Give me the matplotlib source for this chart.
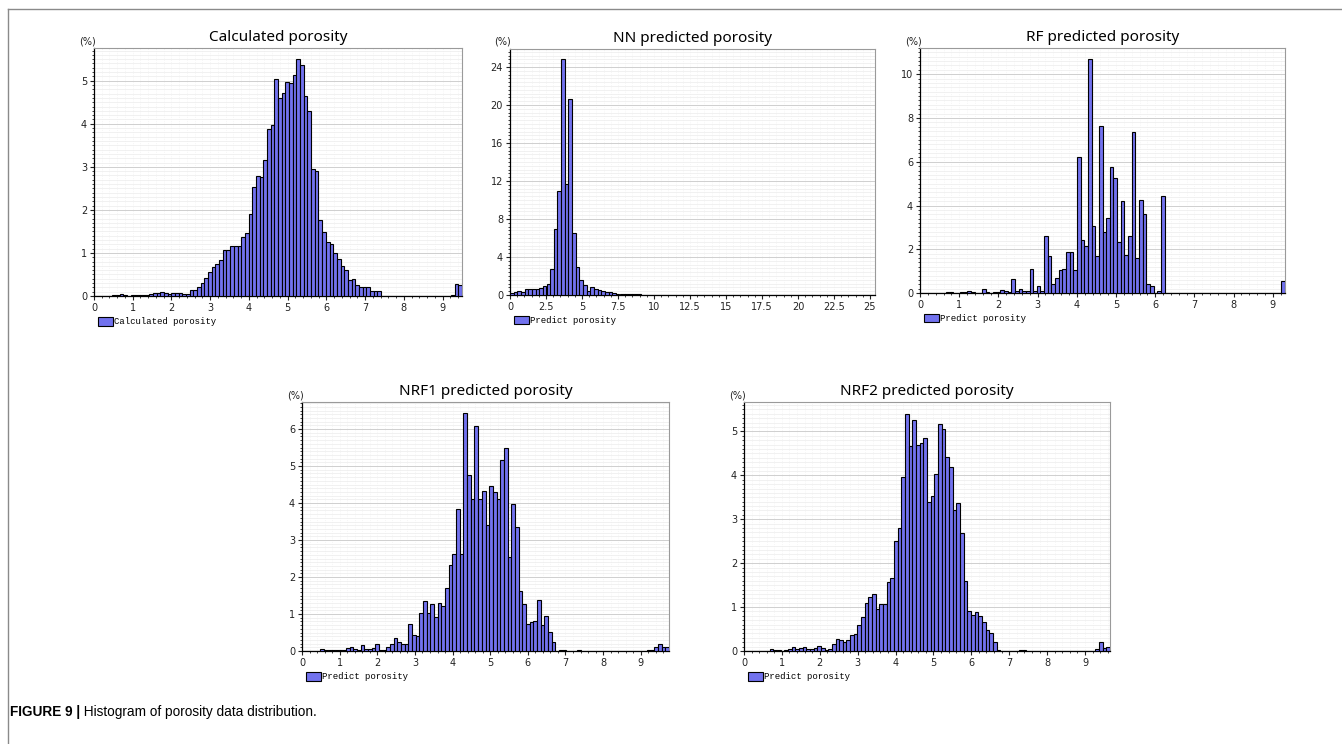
import numpy as np
import matplotlib
matplotlib.use("Agg")
import matplotlib.pyplot as plt
from matplotlib.ticker import MultipleLocator, FuncFormatter
from matplotlib.lines import Line2D

# --- Daten (Balkenhöhen in %, je 100 Klassen von 0 bis xmax) ---
CALC_XMAX = 9.5
CALC_VALUES = [
    0, 0, 0, 0, 0.01, 0.02, 0.02, 0.05, 0.03, 0.01,
    0.02, 0.02, 0.02, 0.02, 0.03, 0.04, 0.06, 0.07, 0.10, 0.08,
    0.04, 0.07, 0.07, 0.07, 0.05, 0.05, 0.15, 0.13, 0.20, 0.31,
    0.41, 0.56, 0.68, 0.74, 0.83, 1.08, 1.08, 1.17, 1.16, 1.17,
    1.36, 1.47, 1.90, 2.54, 2.79, 2.77, 3.17, 3.87, 3.98, 5.04,
    4.61, 4.72, 4.98, 4.94, 5.13, 5.50, 5.36, 4.64, 4.30, 2.96,
    2.91, 1.76, 1.49, 1.26, 1.20, 1.01, 0.87, 0.69, 0.60, 0.38,
    0.40, 0.25, 0.21, 0.22, 0.20, 0.12, 0.12, 0.12, 0, 0,
    0, 0, 0, 0, 0, 0, 0, 0, 0, 0,
    0, 0, 0, 0, 0, 0, 0, 0.02, 0.28, 0.25,
]

NN_XMAX = 25.35
NN_VALUES = [
    0.25, 0.30, 0.45, 0.35, 0.60, 0.67, 0.67, 0.65, 0.77, 0.90,
    1.20, 2.70, 6.90, 10.9, 24.8, 11.7, 20.6, 6.50, 3.00, 1.60,
    1.10, 0.45, 0.80, 0.60, 0.50, 0.45, 0.35, 0.28, 0.18, 0.12,
    0.12, 0.10, 0.08, 0.10, 0.06, 0.08, 0.05, 0.04, 0.05, 0.03,
    0.03, 0.02, 0.03, 0.02, 0.02, 0.01, 0.02, 0.02, 0.01, 0.02,
    0.01, 0.02, 0.01, 0.01, 0.02, 0.01, 0, 0.01, 0.02, 0.01,
    0.01, 0, 0.01, 0.02, 0.01, 0, 0.01, 0.01, 0, 0.01,
    0.02, 0.01, 0, 0.01, 0, 0.01, 0.02, 0, 0.01, 0.01,
    0, 0.01, 0.01, 0, 0.02, 0.01, 0, 0.01, 0, 0.01,
    0.01, 0, 0.01, 0.02, 0, 0.01, 0, 0.01, 0.01, 0,
]

RF_XMAX = 9.31
RF_VALUES = [
    0, 0, 0, 0, 0, 0, 0, 0.05, 0.05, 0.02,
    0.02, 0.05, 0.05, 0.10, 0.03, 0.02, 0.02, 0.20, 0.05, 0.02,
    0.05, 0.04, 0.15, 0.08, 0.06, 0.65, 0.11, 0.17, 0.11, 0.11,
    1.10, 0.10, 0.32, 0.11, 2.60, 1.71, 0.40, 0.69, 1.04, 1.10,
    1.86, 1.86, 1.04, 6.20, 2.41, 2.13, 10.7, 3.05, 1.69, 7.63,
    2.80, 3.43, 5.74, 5.25, 2.32, 4.20, 1.72, 2.61, 7.35, 1.62,
    4.24, 3.59, 0.40, 0.32, 0, 0.11, 4.43, 0, 0, 0,
    0, 0, 0, 0, 0, 0, 0, 0, 0, 0,
    0, 0, 0, 0, 0, 0, 0, 0, 0, 0,
    0, 0, 0, 0, 0, 0, 0, 0, 0, 0.55,
]

NRF1_XMAX = 9.75
NRF1_VALUES = [
    0, 0, 0, 0, 0, 0.05, 0.02, 0.02, 0.02, 0.02,
    0.02, 0.02, 0.08, 0.12, 0.05, 0.03, 0.17, 0.06, 0.06, 0.08,
    0.20, 0.03, 0.03, 0.10, 0.19, 0.35, 0.24, 0.19, 0.19, 0.73,
    0.43, 0.41, 1.03, 1.34, 1.03, 1.27, 0.92, 1.30, 1.22, 1.69,
    2.32, 2.61, 3.85, 2.61, 6.42, 4.77, 4.10, 6.08, 4.10, 4.33,
    3.40, 4.47, 4.31, 4.10, 5.17, 5.48, 2.53, 3.96, 3.35, 1.62,
    1.26, 0.73, 0.78, 0.82, 1.38, 0.70, 0.95, 0.52, 0.25, 0,
    0.02, 0.02, 0, 0, 0.01, 0.02, 0, 0, 0, 0,
    0, 0, 0, 0, 0, 0, 0, 0, 0, 0,
    0, 0, 0, 0, 0.02, 0.03, 0.12, 0.20, 0.10, 0.12,
]

NRF2_XMAX = 9.66
NRF2_VALUES = [
    0, 0, 0, 0, 0, 0, 0, 0.05, 0.03, 0.02,
    0.01, 0.02, 0.05, 0.09, 0.05, 0.06, 0.08, 0.05, 0.05, 0.06,
    0.11, 0.06, 0.03, 0.04, 0.17, 0.28, 0.25, 0.21, 0.25, 0.36,
    0.39, 0.59, 0.78, 1.09, 1.24, 1.29, 0.96, 1.06, 1.06, 1.58,
    1.66, 2.51, 2.80, 3.97, 5.40, 4.66, 5.27, 4.70, 4.74, 4.86,
    3.39, 3.52, 4.03, 5.17, 5.06, 4.41, 4.18, 3.21, 3.36, 2.68,
    1.60, 0.90, 0.82, 0.88, 0.80, 0.67, 0.47, 0.40, 0.21, 0.03,
    0, 0, 0, 0, 0, 0.02, 0.02, 0.01, 0, 0,
    0, 0.01, 0.01, 0, 0, 0, 0, 0, 0, 0,
    0, 0, 0, 0, 0, 0, 0.05, 0.20, 0.07, 0.10,
]

TITLES = ["Calculated porosity", "NN predicted porosity", "RF predicted porosity",
          "NRF1 predicted porosity", "NRF2 predicted porosity"]
LEGEND_LABELS = ["Calculated porosity", "Predict porosity", "Predict porosity",
                 "Predict porosity", "Predict porosity"]
CAPTION_BOLD = "FIGURE 9 |"
CAPTION_TEXT = " Histogram of porosity data distribution."

# --- Layout (Pixel im Bild 1342x744) ---
W, H = 1342, 744
BAR_COLOR = "#7272ee"

panels = [
    # values, xmax, (left, top, right, bottom), xtick step, ytick step, ymax
    (CALC_VALUES, CALC_XMAX, (94, 48, 462, 296), 1, 1, 5.76),
    (NN_VALUES, NN_XMAX, (510, 49, 875, 295), 2.5, 4, 25.9),
    (RF_VALUES, RF_XMAX, (920, 48, 1285, 293), 1, 2, 11.2),
    (NRF1_VALUES, NRF1_XMAX, (302, 402, 669, 651), 1, 1, 6.73),
    (NRF2_VALUES, NRF2_XMAX, (744, 402, 1110, 651), 1, 1, 5.67),
]

fig = plt.figure(figsize=(W / 100, H / 100), dpi=100)
fig.patch.set_facecolor("white")


def draw_panel(values, xmax, box, xstep, ystep, ymax, title, leg_label):
    left, top, right, bottom = box
    ax = fig.add_axes([left / W, 1 - bottom / H, (right - left) / W, (bottom - top) / H])
    values = np.asarray(values, dtype=float)
    width = xmax / len(values)
    edges = np.arange(len(values)) * width
    ax.bar(edges, values, width=width, align="edge", color=BAR_COLOR,
           edgecolor="black", linewidth=0.8, label=leg_label, zorder=3)

    ax.set_xlim(0, xmax)
    ax.set_ylim(0, ymax)
    ax.xaxis.set_major_locator(MultipleLocator(xstep))
    ax.xaxis.set_minor_locator(MultipleLocator(xstep / 5))
    ax.yaxis.set_major_locator(MultipleLocator(ystep))
    ax.yaxis.set_minor_locator(MultipleLocator(ystep / 10))
    ax.xaxis.set_major_formatter(FuncFormatter(lambda v, p: f"{v:g}"))

    ax.grid(which="major", axis="y", color="#cfcfcf", linewidth=0.7, zorder=0)
    ax.grid(which="minor", axis="y", color="#ececec", linewidth=0.5, zorder=0)
    ax.grid(which="both", axis="x", color="#f0f0f0", linewidth=0.5,
            linestyle=":", zorder=0)

    for side in ["top", "right"]:
        ax.spines[side].set_color("#9a9a9a")
        ax.spines[side].set_linewidth(0.8)
    for side in ["left", "bottom"]:
        ax.spines[side].set_color("black")
        ax.spines[side].set_linewidth(0.9)

    ax.tick_params(which="major", length=3, width=0.8, labelsize=7,
                   colors="#222222", pad=2)
    ax.tick_params(which="minor", length=1.5, width=0.6, colors="#222222")

    ax.set_title(title, fontsize=11, family="Noto Sans", pad=5)
    # "(%)" links oberhalb der y-Achse
    ax.annotate("(%)", xy=(0, 1), xycoords="axes fraction", xytext=(-7, 7),
                textcoords="offset pixels", ha="center", va="center",
                fontsize=7, family="DejaVu Sans", color="#222222")

    ax.legend(loc="upper left", bbox_to_anchor=(0.0, -0.07), borderaxespad=0,
              frameon=False, handlelength=1.7, handleheight=1.1, handletextpad=0.15,
              prop={"family": "Liberation Mono", "size": 6.5})
    return ax


for (vals, xmax, box, xs, ys, ymax), title, lab in zip(panels, TITLES, LEGEND_LABELS):
    draw_panel(vals, xmax, box, xs, ys, ymax, title, lab)

# Rahmen der Abbildung (links und oben)
fig.add_artist(Line2D([8 / W, 8 / W], [0, 1 - 9 / H], color="#8a8a8a", linewidth=1.0))
fig.add_artist(Line2D([8 / W, 1], [1 - 9 / H, 1 - 9 / H], color="#8a8a8a", linewidth=1.0))

# Bildunterschrift
t1 = fig.text(10 / W, 1 - 712 / H, CAPTION_BOLD, fontsize=9.8, fontweight="bold",
              family="Liberation Sans", va="center", ha="left")
fig.canvas.draw()
bb = t1.get_window_extent()
fig.text(bb.x1 / W, 1 - 712 / H, CAPTION_TEXT, fontsize=9.8,
         family="Liberation Sans", va="center", ha="left")

fig.savefig("out.png", dpi=100)
